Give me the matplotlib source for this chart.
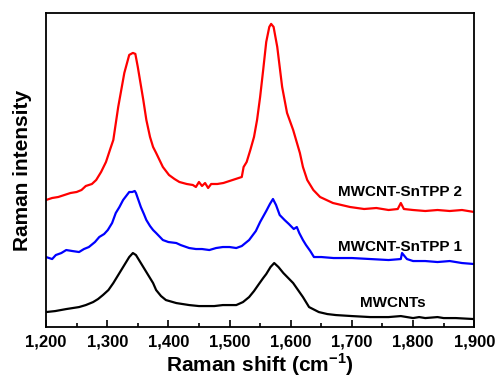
import matplotlib
matplotlib.use("Agg")
import matplotlib.pyplot as plt
from matplotlib.ticker import MultipleLocator, FuncFormatter

plt.rcParams['font.family'] = ['Liberation Sans', 'DejaVu Sans']
plt.rcParams['font.weight'] = 'bold'
plt.rcParams['mathtext.fontset'] = 'custom'
plt.rcParams['mathtext.rm'] = 'Liberation Sans:bold'
plt.rcParams['mathtext.bf'] = 'Liberation Sans:bold'

# (arbitrary intensity units, offset spectra)
x_sntpp2 = [1200, 1210, 1220, 1230, 1240, 1250, 1258, 1265, 1275, 1282,
            1290, 1298, 1305, 1310, 1318, 1328, 1336, 1342, 1346, 1350,
            1359, 1364, 1370, 1375, 1380, 1391, 1401, 1410, 1418, 1430,
            1440, 1445, 1450, 1455, 1460, 1465, 1470, 1480, 1490, 1500,
            1510, 1520, 1523, 1528, 1534, 1540, 1545, 1550, 1555, 1560,
            1565, 1568, 1572, 1578, 1586, 1594, 1604, 1615, 1620, 1627,
            1637, 1648, 1669, 1697, 1720, 1740, 1760, 1775, 1780, 1785,
            1800, 1820, 1840, 1860, 1880, 1900]
y_sntpp2 = [127, 129, 130, 132, 134, 135, 137, 141, 143, 147,
            155, 165, 178, 187, 220, 254, 272, 274, 273, 260,
            227, 207, 190, 180, 174, 160, 152, 148, 145, 143,
            142, 140, 145, 141, 144, 139, 143, 143, 144, 146,
            148, 150, 160, 165, 177, 190, 207, 230, 257, 285,
            300, 303, 300, 280, 240, 214, 197, 174, 160, 147,
            137, 130, 124, 120, 118, 119, 117, 118, 124, 118,
            117, 116, 117, 116, 117, 115]

x_sntpp1 = [1200, 1210, 1216, 1225, 1233, 1243, 1254, 1262, 1270, 1280,
            1287, 1295, 1301, 1308, 1314, 1320, 1326, 1331, 1336, 1341,
            1345, 1347, 1351, 1355, 1360, 1364, 1370, 1375, 1380, 1391,
            1400, 1413, 1420, 1434, 1445, 1455, 1467, 1478, 1489, 1500,
            1511, 1520, 1532, 1543, 1550, 1560, 1566, 1571, 1576, 1582,
            1590, 1597, 1605, 1610, 1614, 1620, 1625, 1632, 1638, 1650,
            1670, 1700, 1730, 1760, 1780, 1782, 1790, 1800, 1820, 1840,
            1860, 1880, 1900]
y_sntpp1 = [70, 68, 72, 74, 77, 76, 75, 78, 80, 85,
            90, 93, 97, 104, 114, 120, 127, 131, 135, 135,
            136, 134, 127, 120, 113, 107, 101, 97, 94, 87,
            85, 84, 82, 79, 78, 78, 77, 79, 80, 80,
            79, 81, 87, 96, 105, 116, 123, 128, 122, 112,
            107, 103, 98, 100, 94, 87, 82, 76, 70, 70,
            69, 69, 68, 67, 68, 74, 68, 66, 66, 65,
            66, 64, 63]

x_mwcnt = [1200, 1215, 1233, 1254, 1265, 1277, 1285, 1293, 1302, 1310,
           1318, 1326, 1331, 1336, 1342, 1347, 1352, 1358, 1364, 1370,
           1375, 1380, 1388, 1396, 1413, 1434, 1450, 1462, 1475, 1489,
           1500, 1511, 1522, 1532, 1540, 1548, 1555, 1560, 1567, 1573,
           1580, 1588, 1596, 1604, 1612, 1620, 1630, 1646, 1660, 1674,
           1700, 1730, 1760, 1780, 1800, 1810, 1820, 1840, 1850, 1870,
           1900]
y_mwcnt = [15, 16, 18, 20, 22, 25, 28, 32, 37, 44,
           52, 60, 65, 70, 74, 72, 67, 61, 55, 49,
           44, 37, 31, 27, 24, 22, 21, 21, 21, 22,
           22, 22, 25, 30, 36, 43, 49, 53, 60, 64,
           60, 54, 49, 44, 37, 30, 20, 15, 13, 12,
           11, 10, 10, 11, 9, 10, 9, 10, 9, 9,
           8]

labels = ['MWCNT-SnTPP 2', 'MWCNT-SnTPP 1', 'MWCNTs']

fig = plt.figure(figsize=(4.95, 3.79), dpi=100)
ax = fig.add_axes([0.093, 0.137, 0.865, 0.829])

ax.plot(x_sntpp2, y_sntpp2, color='#ff0000', lw=1.6)
ax.plot(x_sntpp1, y_sntpp1, color='#0000ff', lw=1.6)
ax.plot(x_mwcnt, y_mwcnt, color='black', lw=1.6)

ax.text(1678, 135, labels[0], fontsize=11, fontweight='bold', va='center')
ax.text(1678, 80, labels[1], fontsize=11, fontweight='bold', va='center')
ax.text(1714, 24, labels[2], fontsize=11, fontweight='bold', va='center')

ax.set_xlim(1200, 1900)
ax.set_ylim(0, 314)
ax.set_yticks([])
ax.xaxis.set_major_locator(MultipleLocator(100))
ax.xaxis.set_minor_locator(MultipleLocator(50))
ax.xaxis.set_major_formatter(FuncFormatter(lambda v, p: '{:,.0f}'.format(v)))
ax.tick_params(axis='x', which='major', direction='in', length=5, width=1.2,
               labelsize=12, pad=5)
ax.tick_params(axis='x', which='minor', direction='in', length=3, width=1.2)
for s in ax.spines.values():
    s.set_linewidth(1.3)

ax.set_xlabel(r'Raman shift (cm$^{\mathbf{-1}}$)', fontsize=15, fontweight='bold', labelpad=2)
ax.set_ylabel('Raman intensity', fontsize=15, fontweight='bold', labelpad=10)

fig.savefig('out.png', dpi=100)
